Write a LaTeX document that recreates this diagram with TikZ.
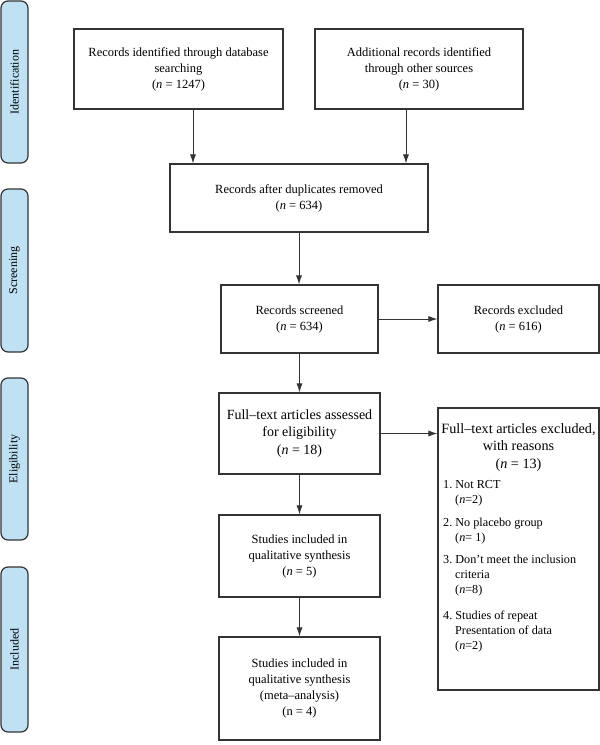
\documentclass[tikz,border=0pt]{standalone}
\usepackage{fontspec}
\setmainfont{Liberation Serif}
\usetikzlibrary{arrows.meta,calc}
\definecolor{linec}{HTML}{333333}
\definecolor{pillc}{HTML}{BFE1F4}
\frenchspacing
\begin{document}
\begin{tikzpicture}[x=1pt,y=-1pt,
  box/.style={draw=linec, line width=1.1pt, rectangle, align=center, inner sep=0pt, font=\fontsize{12.5}{16}\selectfont},
  bigbox/.style={box, font=\fontsize{14}{17.5}\selectfont},
  pill/.style={draw=linec, line width=1.2pt, fill=pillc, rounded corners=7pt, inner sep=0pt, rotate=90, minimum height=27pt, font=\fontsize{12}{14}\selectfont},
  arr/.style={draw=linec, line width=0.9pt, -{Latex[length=9pt,width=6pt]}},
]
\useasboundingbox (0,0) rectangle (600,745);

% phase labels
\node[pill, minimum width=162pt] (p1) at (14.5,82) {Identification};
\node[pill, minimum width=163pt] (p2) at (14.5,270.5) {Screening};
\node[pill, minimum width=162pt] (p3) at (14.5,459) {Eligibility};
\node[pill, minimum width=165pt] (p4) at (14.5,649.5) {Included};

% boxes
\node[box, minimum width=209pt, minimum height=80pt] (b1) at (178.5,69) {Records identified through database\\ searching\\ (\textit{n} = 1247)};
\node[box, minimum width=208pt, minimum height=80pt] (b2) at (419,69) {Additional records identified\\ through other sources\\ (\textit{n} = 30)};
\node[box, minimum width=258pt, minimum height=68pt] (b3) at (299,198) {Records after duplicates removed\\ (\textit{n} = 634)};
\node[box, minimum width=157pt, minimum height=68pt] (b4) at (299.5,319) {Records screened\\ (\textit{n} = 634)};
\node[box, minimum width=161pt, minimum height=68pt] (b5) at (518.5,319) {Records excluded\\ (\textit{n} = 616)};
\node[bigbox, minimum width=161pt, minimum height=81pt] (b6) at (299.5,433.5) {Full–text articles assessed\\ for eligibility\\ (\textit{n} = 18)};
\node[box, minimum width=161pt, minimum height=282pt] (b7) at (518.5,549) {};
\node[box, minimum width=161pt, minimum height=82pt] (b8) at (299.5,556) {Studies included in\\ qualitative synthesis\\ (\textit{n} = 5)};
\node[box, minimum width=161pt, minimum height=103pt] (b9) at (299.5,688.5) {Studies included in\\ qualitative synthesis\\ (meta–analysis)\\ (n = 4)};

% contents of the exclusion box
\node[anchor=north, align=center, inner sep=0pt, font=\fontsize{14.2}{17.5}\selectfont] (h7) at (518.5,423) {Full–text articles excluded,\\ with reasons\\ (\textit{n} = 13)};
\node[anchor=north west, align=left, inner sep=0pt, font=\fontsize{12.2}{15}\selectfont] (l7) at (443,480) {1. Not RCT\\ \hspace*{12pt}(\textit{n}=2)\\[8pt] 2. No placebo group\\ \hspace*{12pt}(\textit{n}= 1)\\[7pt] 3. Don’t meet the inclusion\\ \hspace*{12pt}criteria\\ \hspace*{12pt}(\textit{n}=8)\\[11pt] 4. Studies of repeat\\ \hspace*{12pt}Presentation of data\\ \hspace*{12pt}(\textit{n}=2)};

% connectors
\draw[arr] ([xshift=14.5pt]b1.south) -- ([xshift=14.5pt]b1.south |- b3.north);
\draw[arr] ([xshift=-13pt]b2.south) -- ([xshift=-13pt]b2.south |- b3.north);
\draw[arr] (b3.south) -- (b3.south |- b4.north);
\draw[arr] (b4) -- (b5);
\draw[arr] (b4.south) -- (b4.south |- b6.north);
\draw[arr] (b6.east) -- (b6.east -| b7.west);
\draw[arr] (b6) -- (b8);
\draw[arr] (b8) -- (b9);
\end{tikzpicture}
\end{document}
